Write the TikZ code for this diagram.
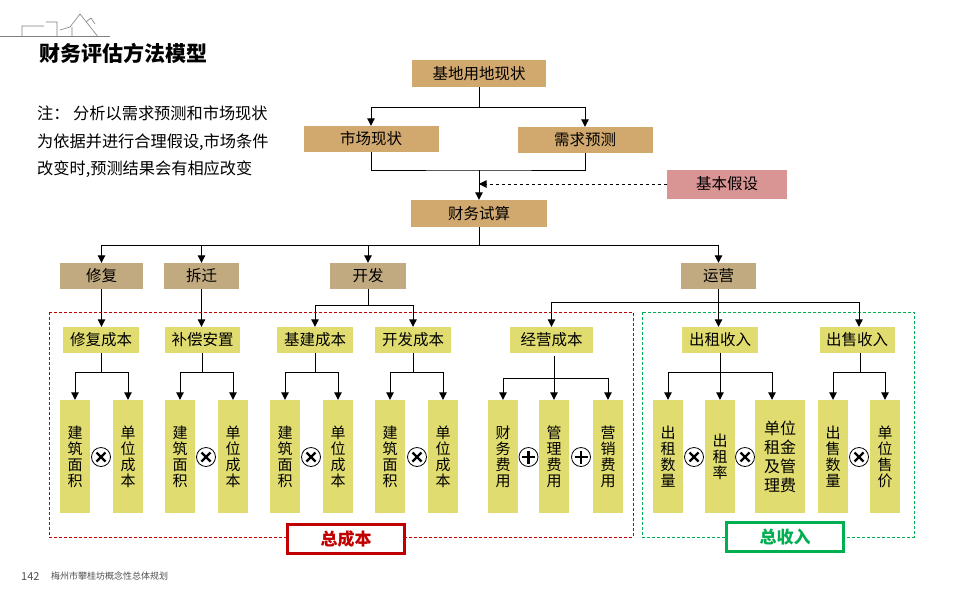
\documentclass[tikz,border=0pt]{standalone}
\usepackage{fontspec}
\setmainfont{Noto Sans CJK SC}
\usetikzlibrary{arrows.meta, positioning}
\definecolor{tanA}{RGB}{209,168,110}
\definecolor{tanB}{RGB}{193,170,128}
\definecolor{yel}{RGB}{224,220,112}
\definecolor{hypcol}{RGB}{217,148,148}
\definecolor{totred}{RGB}{192,0,0}
\definecolor{totgreen}{RGB}{0,176,80}
\definecolor{footgray}{RGB}{80,80,80}
\tikzstyle{block} = [rectangle, fill=tanA, inner sep=0pt, minimum width=135pt,
  minimum height=27pt, text centered, font=\fontsize{15.5}{18}\selectfont]
\tikzstyle{sub} = [block, fill=tanB, minimum width=76pt, minimum height=26pt]
\tikzstyle{cost} = [block, fill=yel, minimum width=76pt, minimum height=26pt]
\tikzstyle{item} = [rectangle, fill=yel, inner sep=0pt, minimum width=30pt,
  minimum height=113pt, align=center, font=\fontsize{15}{16}\selectfont]
\tikzstyle{arrow} = [line width=1pt, -{Triangle[width=7.5pt,length=7.5pt]}]
\tikzstyle{link} = [line width=1pt]
\tikzstyle{frame} = [draw, dash pattern=on 3pt off 2pt, line width=0.8pt]
\tikzstyle{total} = [rectangle, draw, line width=3pt, fill=white, minimum width=117pt,
  minimum height=29pt, font=\fontsize{17}{20}\selectfont\bfseries]
\tikzstyle{mul} = [circle, draw, fill=white, line width=0.8pt, minimum size=19pt, inner sep=0pt,
  path picture={\draw[line width=2.2pt]
    ([shift={(-4.5pt,-4.5pt)}]path picture bounding box.center) -- ([shift={(4.5pt,4.5pt)}]path picture bounding box.center)
    ([shift={(-4.5pt,4.5pt)}]path picture bounding box.center) -- ([shift={(4.5pt,-4.5pt)}]path picture bounding box.center);}]
\tikzstyle{plus} = [circle, draw, fill=white, line width=0.8pt, minimum size=19pt, inner sep=0pt,
  path picture={\draw[line width=2.2pt]
    ([shift={(-6.5pt,0pt)}]path picture bounding box.center) -- ([shift={(6.5pt,0pt)}]path picture bounding box.center)
    ([shift={(0pt,-6.5pt)}]path picture bounding box.center) -- ([shift={(0pt,6.5pt)}]path picture bounding box.center);}]

\begin{document}
\begin{tikzpicture}[x=1pt, y=-1pt]
    \useasboundingbox[fill=white] (0,0) rectangle (960,600);
    % logo and titles
    \draw[gray, line width=0.8pt] (0,36.7) -- (110,36.7);
    \draw[gray, line width=0.6pt] (22,36.7) -- (22,26) -- (44,26) (46,22) -- (57,22) -- (57,36.7)
      (60,30) -- (70,27) -- (80,14) -- (98,36.7) (72,27) -- (72,36.7) (86,22) -- (91,18) -- (95,24);
    \node[anchor=west, font=\fontsize{21}{24}\selectfont\bfseries] (title) at (36,53) {财务评估方法模型};
    \node[anchor=north west, align=left, inner sep=0pt, font=\fontsize{16.2}{27.5}\selectfont] (note) at (37,106)
      {注： 分析以需求预测和市场现状\\为依据并进行合理假设,市场条件\\改变时,预测结果会有相应改变};
    \node[anchor=west, inner sep=0pt, font=\fontsize{11}{12}\selectfont, text=footgray] (pg) at (21,576) {142};
    \node[anchor=west, inner sep=0pt, font=\fontsize{9}{10}\selectfont, text=footgray] (proj) at (51,576) {梅州市攀桂坊概念性总体规划};
    % dashed groups
    \draw[frame, totred] (49,312) rectangle (633,537);
    \draw[frame, totgreen] (642,312) rectangle (914,537);
    % top part
    \node[block, minimum width=134pt] (base) at (479,73.5) {基地用地现状};
    \node[block, minimum height=26pt] (mkt) at (371,139) {市场现状};
    \node[block, minimum height=26pt] (dmd) at (585,140) {需求预测};
    \node[block, fill=hypcol, minimum width=120pt, minimum height=29pt] (hyp) at (727,184) {基本假设};
    \node[block, minimum width=136pt] (fin) at (479,213.5) {财务试算};
    % second row
    \node[sub, minimum width=83pt] (rep) at (101.5,276) {修复};
    \node[sub, minimum width=75pt] (dem) at (201.5,276) {拆迁};
    \node[sub] (dev) at (368,276) {开发};
    \node[sub, minimum width=75pt] (ops) at (718.5,276) {运营};
    % cost and income items
    \node[cost] (c1) at (101,340) {修复成本};
    \node[cost, minimum width=75pt] (c2) at (202.5,340) {补偿安置};
    \node[cost] (c3) at (315,340) {基建成本};
    \node[cost] (c4) at (413,340) {开发成本};
    \node[cost, minimum width=83pt] (c5) at (551.5,340) {经营成本};
    \node[cost] (r1) at (720,340) {出租收入};
    \node[cost, minimum width=75pt] (r2) at (857,340) {出售收入};
    % bottom factors
    \node[item] (a1) at (75,456.5) {建\\筑\\面\\积};
    \node[item] (b1) at (128,456.5) {单\\位\\成\\本};
    \node[item] (a2) at (180,456.5) {建\\筑\\面\\积};
    \node[item] (b2) at (233,456.5) {单\\位\\成\\本};
    \node[item] (a3) at (285,456.5) {建\\筑\\面\\积};
    \node[item] (b3) at (338,456.5) {单\\位\\成\\本};
    \node[item] (a4) at (390,456.5) {建\\筑\\面\\积};
    \node[item] (b4) at (443,456.5) {单\\位\\成\\本};
    \node[item] (e1) at (503,456.5) {财\\务\\费\\用};
    \node[item] (e2) at (554,456.5) {管\\理\\费\\用};
    \node[item] (e3) at (608,456.5) {营\\销\\费\\用};
    \node[item] (g1) at (668,456.5) {出\\租\\数\\量};
    \node[item] (g2) at (720,456.5) {出\\租\\率};
    \node[item, minimum width=50pt, font=\fontsize{16}{19}\selectfont] (g3) at (780,456.5) {单位\\租金\\及管\\理费};
    \node[item] (h1) at (833,456.5) {出\\售\\数\\量};
    \node[item] (h2) at (885,456.5) {单\\位\\售\\价};
    \node[mul] (m1) at (101,457) {};
    \node[mul] (m2) at (206,457) {};
    \node[mul] (m3) at (311,457) {};
    \node[mul] (m4) at (417,457) {};
    \node[plus] (p1) at (528.5,457) {};
    \node[plus] (p2) at (581,457) {};
    \node[mul] (m5) at (694,457) {};
    \node[mul] (m6) at (745,457) {};
    \node[mul] (m7) at (859,457) {};
    % totals
    \node[total, draw=totred, text=totred] (tc) at (346,539) {总成本};
    \node[total, draw=totgreen, text=totgreen] (ti) at (785,537) {总收入};
    % connectors
    \draw[link] (base.south) -- ++(0,20) coordinate (j0);
    \draw[arrow] (j0) -| (mkt.north);
    \draw[arrow] (j0) -| (dmd.north);
    \coordinate (j1) at (479,170);
    \draw[link] (mkt.south) |- (j1) -| (dmd.south);
    \draw[arrow] (j1) -- (fin.north);
    \draw[arrow, dashed] (hyp.west) -- (hyp.west -| fin.north);
    \draw[link] (fin.south) -- ++(0,18) coordinate (j2);
    \draw[arrow] (j2) -| (rep.north);
    \draw[arrow] (j2) -| (dem.north);
    \draw[arrow] (j2) -| (dev.north);
    \draw[arrow] (j2) -| (ops.north);
    \draw[arrow] (rep.south) -- (rep.south |- c1.north);
    \draw[arrow] (dem.south) -- (dem.south |- c2.north);
    \draw[link] (dev.south) -- ++(0,16) coordinate (j3);
    \draw[arrow] (j3) -| (c3.north);
    \draw[arrow] (j3) -| (c4.north);
    \draw[arrow] (ops.south) -- (ops.south |- r1.north);
    \coordinate (j4) at (ops.south |- 0,302);
    \draw[arrow] (j4) -| (c5.north);
    \draw[arrow] (j4) -| ([xshift=2pt]r2.north);
    \draw[link] (c1.south) -- ++(0,19) coordinate (k1);
    \draw[arrow] (k1) -| (a1.north);
    \draw[arrow] (k1) -| (b1.north);
    \draw[link] (c2.south) -- ++(0,19) coordinate (k2);
    \draw[arrow] (k2) -| (a2.north);
    \draw[arrow] (k2) -| (b2.north);
    \draw[link] (c3.south) -- ++(0,19) coordinate (k3);
    \draw[arrow] (k3) -| (a3.north);
    \draw[arrow] (k3) -| (b3.north);
    \draw[link] (c4.south) -- ++(0,19) coordinate (k4);
    \draw[arrow] (k4) -| (a4.north);
    \draw[arrow] (k4) -| (b4.north);
    \draw[link] ([yshift=-3pt]c5.south -| e2.north) -- ++(0,22) coordinate (k5);
    \draw[arrow] (k5) -| (e1.north);
    \draw[arrow] (k5) -- (e2.north);
    \draw[arrow] (k5) -| (e3.north);
    \draw[link] (r1.south) -- ++(0,19) coordinate (k6);
    \draw[arrow] (k6) -| (g1.north);
    \draw[arrow] (k6) -- (g2.north);
    \draw[arrow] (k6) -| ([xshift=-8pt]g3.north);
    \draw[link] ([xshift=3pt]r2.south) -- ++(0,19) coordinate (k7);
    \draw[arrow] (k7) -| (h1.north);
    \draw[arrow] (k7) -| (h2.north);
  \end{tikzpicture}
\end{document}
